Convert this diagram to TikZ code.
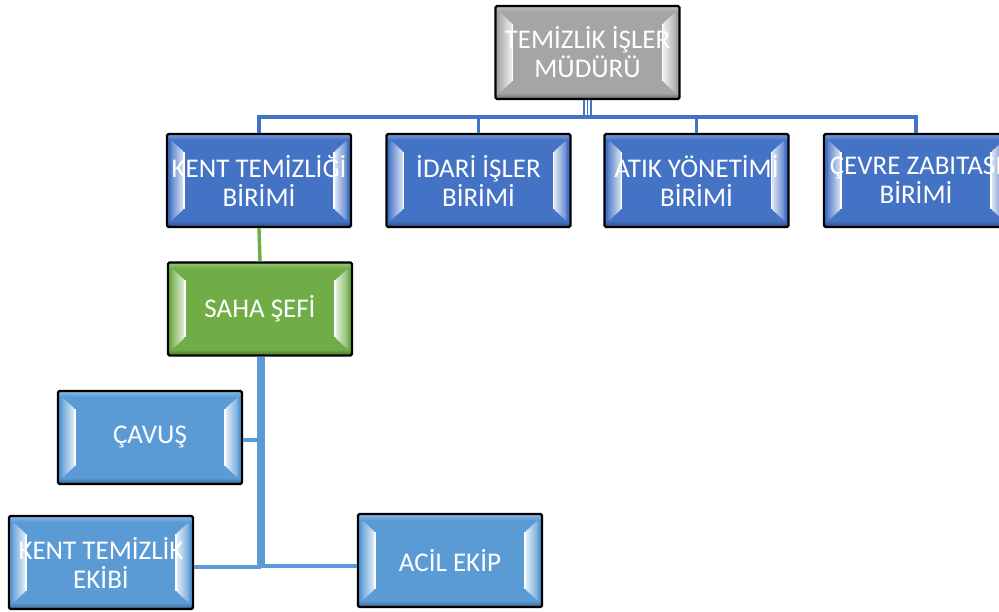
\documentclass[tikz,border=0pt]{standalone}
\usepackage{fontspec}
\setmainfont{Carlito}
\definecolor{topgray}{HTML}{A5A5A5}
\definecolor{darkblue}{HTML}{4472C4}
\definecolor{lightblue}{HTML}{5B9BD5}
\definecolor{greenc}{HTML}{70AD47}
\tikzset{
  bevel/.style={
    path picture={
      \coordinate (nw) at (path picture bounding box.north west);
      \coordinate (sw) at (path picture bounding box.south west);
      \coordinate (ne) at (path picture bounding box.north east);
      \coordinate (se) at (path picture bounding box.south east);
      \shade[left color=#1!85!white, right color=#1!15!white]
        ([xshift=4pt,yshift=-6pt]nw) -- ([xshift=17pt,yshift=-18pt]nw)
        -- ([xshift=17pt,yshift=18pt]sw) -- ([xshift=4pt,yshift=6pt]sw) -- cycle;
      \shade[right color=#1!85!white, left color=#1!15!white]
        ([xshift=-4pt,yshift=-6pt]ne) -- ([xshift=-17pt,yshift=-18pt]ne)
        -- ([xshift=-17pt,yshift=18pt]se) -- ([xshift=-4pt,yshift=6pt]se) -- cycle;
      \draw[white, line width=1.2pt] ([xshift=17pt,yshift=-18pt]nw) -- ([xshift=17pt,yshift=18pt]sw);
      \draw[white, line width=1.2pt] ([xshift=-17pt,yshift=-18pt]ne) -- ([xshift=-17pt,yshift=18pt]se);
      \shade[top color=#1!75!white, bottom color=#1]
        ([yshift=-1pt]nw) rectangle ([yshift=-6pt]ne);
      \shade[top color=#1, bottom color=#1!70!black]
        ([yshift=6pt]sw) rectangle ([yshift=1pt]se);
    }},
  box/.style={draw=black, line width=2.4pt, rounded corners=1.5pt, fill=#1, bevel=#1,
    minimum width=184pt, minimum height=93pt, inner sep=0pt, text=white,
    align=center, font=\fontsize{27}{29}\selectfont},
  topline/.style={draw=darkblue, line width=3.4pt},
  botline/.style={draw=lightblue, line width=3.4pt},
  greenline/.style={draw=greenc, line width=3.4pt},
}
\begin{document}
\begin{tikzpicture}[x=1pt,y=-1pt]
\useasboundingbox (0,0) rectangle (999,612);
\clip (0,0) rectangle (999,612);
\fill[white] (0,0) rectangle (999,612);
% nodes
\node[box=topgray] (top) at (587.5,52.5) {TEMİZLİK İŞLER\\MÜDÜRÜ};
\node[box=darkblue] (kt) at (259,180.5) {KENT TEMİZLİĞİ\\BİRİMİ};
\node[box=darkblue] (id) at (478.5,180.5) {İDARİ İŞLER\\BİRİMİ};
\node[box=darkblue] (at) at (696.5,180.5) {ATIK YÖNETİMİ\\BİRİMİ};
\node[box=darkblue] (cz) at (916,180.5) {ÇEVRE ZABITASI\\BİRİMİ};
\node[box=greenc] (saha) at (260,309) {SAHA ŞEFİ};
\node[box=lightblue] (cav) at (150,437.5) {ÇAVUŞ};
\node[box=lightblue] (kte) at (101,562.5) {KENT TEMİZLİK\\EKİBİ};
\node[box=lightblue] (acil) at (450,560.5) {ACİL EKİP};
% connectors top
\coordinate (bus) at (590.5,117);
\foreach \dx in {-3.5,0,3.5}
  \draw[draw=darkblue, line width=1.6pt] ([xshift=\dx pt]top.south) -- ([xshift=\dx pt]top.south |- bus);
\draw[topline] (kt.north) |- (bus) -| (cz.north);
\draw[topline] (id.north) -- (id.north |- bus);
\draw[topline] (at.north) -- (at.north |- bus);
% green connector
\draw[greenline] (kt.south) -- (saha.north);
% bottom connectors
\coordinate (j1) at (259,567);
\coordinate (j2) at (263,566);
\draw[botline] ([xshift=-1pt]saha.south) -- (j1) -- (kte.east |- j1);
\draw[botline] ([xshift=3pt]saha.south) -- (j2) -- (acil.west |- j2);
\draw[botline] (259,440) -- (cav.east |- 0,440);
% redraw boxes over connector ends
\end{tikzpicture}
\end{document}
